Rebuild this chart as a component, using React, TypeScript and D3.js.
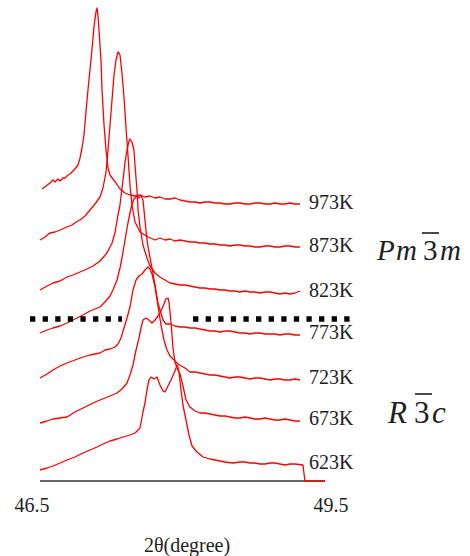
import * as d3 from 'd3';

type Pt = [number, number];

const width = 470;
const height = 556;

// temperatures, top to bottom, and the vertical offset of each scan (a.u.)
const temperatures = ['973K', '873K', '823K', '773K', '723K', '673K', '623K'];
const offsets = [277, 234, 189, 147, 102, 61, 17];

// [2theta, intensity above offset]
const scan973: Pt[] = [
  [46.521, 15], [46.563, 18], [46.605, 21], [46.637, 24], [46.658, 22], [46.689, 25], [46.711, 23],
  [46.742, 26], [46.763, 26], [46.795, 29], [46.816, 30], [46.847, 33], [46.868, 35], [46.9, 39],
  [46.921, 46], [46.942, 56], [46.963, 69], [46.984, 92], [47.005, 114], [47.026, 134], [47.047, 154],
  [47.068, 177], [47.089, 192], [47.1, 196], [47.111, 188], [47.121, 174], [47.142, 144], [47.153, 114],
  [47.174, 79], [47.195, 54], [47.216, 36], [47.237, 29], [47.268, 25], [47.3, 21], [47.342, 15],
  [47.395, 11], [47.447, 9], [47.5, 8], [47.553, 9], [47.605, 7], [47.658, 8], [47.711, 6],
  [47.763, 7], [47.816, 5], [47.868, 5], [47.921, 6], [47.974, 4], [48.026, 3], [48.079, 2],
  [48.132, 2], [48.184, 1], [48.237, 2], [48.289, 2], [48.342, 1], [48.395, 1], [48.447, 0],
  [48.5, 0], [48.553, 1], [48.605, 1], [48.658, 0], [48.711, 0], [48.763, 1], [48.816, 1],
  [48.868, 0], [48.921, 0], [48.974, 1], [49.026, 0], [49.079, 0], [49.132, 1], [49.184, 0], [49.237, 0],
];

const scan873: Pt[] = [
  [46.5, 7], [46.553, 10], [46.605, 14], [46.658, 15], [46.711, 17], [46.784, 20], [46.837, 22],
  [46.879, 25], [46.921, 27], [46.974, 31], [47.026, 37], [47.079, 43], [47.132, 50], [47.163, 59],
  [47.195, 75], [47.216, 97], [47.237, 122], [47.258, 147], [47.279, 172], [47.3, 187], [47.321, 195],
  [47.332, 194], [47.342, 192], [47.363, 174], [47.384, 150], [47.405, 120], [47.426, 92], [47.447, 62],
  [47.468, 42], [47.5, 25], [47.553, 15], [47.637, 10], [47.711, 7], [47.763, 9], [47.816, 7],
  [47.868, 8], [47.921, 6], [47.974, 7], [48.026, 6], [48.079, 5], [48.132, 5], [48.184, 4],
  [48.237, 4], [48.289, 3], [48.342, 3], [48.395, 2], [48.447, 2], [48.5, 1], [48.553, 2],
  [48.605, 2], [48.658, 1], [48.711, 1], [48.763, 0], [48.816, 0], [48.868, 1], [48.921, 1],
  [48.974, 0], [49.026, 0], [49.079, 1], [49.132, 1], [49.184, 0], [49.237, 0],
];

const scan823: Pt[] = [
  [46.5, 2], [46.574, 6], [46.637, 9], [46.711, 11], [46.784, 15], [46.847, 17], [46.921, 20],
  [46.995, 23], [47.058, 26], [47.132, 31], [47.205, 39], [47.258, 49], [47.289, 59], [47.321, 77],
  [47.342, 87], [47.374, 112], [47.395, 130], [47.416, 142], [47.437, 151], [47.447, 153], [47.468, 150],
  [47.489, 142], [47.5, 127], [47.521, 102], [47.532, 82], [47.553, 65], [47.584, 47], [47.626, 34],
  [47.658, 26], [47.711, 19], [47.763, 15], [47.816, 12], [47.868, 9], [47.921, 8], [47.974, 7],
  [48.026, 7], [48.079, 6], [48.132, 5], [48.184, 4], [48.237, 4], [48.289, 3], [48.342, 3],
  [48.395, 2], [48.447, 2], [48.5, 1], [48.553, 1], [48.605, 0], [48.658, 1], [48.711, 0],
  [48.763, 0], [48.816, -1], [48.868, 0], [48.921, 0], [48.974, -1], [49.026, -2], [49.079, -1],
  [49.132, -2], [49.184, -1], [49.237, 1],
];

const scan773: Pt[] = [
  [46.5, 1], [46.574, 4], [46.637, 6], [46.711, 8], [46.784, 11], [46.868, 15], [46.953, 19],
  [47.026, 23], [47.132, 27], [47.184, 32], [47.237, 38], [47.268, 44], [47.311, 54], [47.342, 66],
  [47.363, 76], [47.395, 94], [47.426, 111], [47.458, 126], [47.489, 135], [47.521, 138], [47.542, 136],
  [47.563, 139], [47.584, 134], [47.605, 114], [47.626, 94], [47.647, 82], [47.679, 66], [47.711, 49],
  [47.742, 31], [47.763, 24], [47.795, 14], [47.826, 10], [47.868, 10], [47.921, 8], [47.974, 7],
  [48.026, 7], [48.079, 6], [48.132, 6], [48.184, 5], [48.237, 4], [48.289, 3], [48.342, 3],
  [48.395, 2], [48.447, 3], [48.5, 3], [48.553, 2], [48.605, 1], [48.658, 1], [48.711, 0],
  [48.763, 1], [48.816, 1], [48.868, 0], [48.921, 0], [48.974, 0], [49.026, -1], [49.079, 0],
  [49.132, 0], [49.184, -1], [49.237, -1],
];

const scan723: Pt[] = [
  [46.5, 1], [46.574, 5], [46.637, 9], [46.711, 13], [46.784, 16], [46.868, 19], [46.953, 22],
  [47.026, 24], [47.079, 25], [47.132, 26], [47.184, 29], [47.237, 30], [47.289, 32], [47.321, 35],
  [47.353, 41], [47.384, 51], [47.416, 61], [47.447, 72], [47.479, 89], [47.511, 99], [47.542, 103],
  [47.574, 105], [47.605, 109], [47.637, 112], [47.658, 110], [47.679, 105], [47.711, 92], [47.742, 73],
  [47.774, 54], [47.805, 39], [47.837, 29], [47.868, 23], [47.911, 19], [47.953, 15], [48.026, 11],
  [48.079, 7], [48.132, 7], [48.184, 6], [48.237, 5], [48.289, 4], [48.342, 4], [48.395, 3],
  [48.447, 2], [48.5, 1], [48.553, 2], [48.605, 2], [48.658, 1], [48.711, 0], [48.763, 1],
  [48.816, 1], [48.868, 0], [48.921, -1], [48.974, 0], [49.026, 0], [49.079, -1], [49.132, -1],
  [49.184, 0], [49.237, -1],
];

const scan673: Pt[] = [
  [46.5, -3], [46.574, -1], [46.637, 1], [46.711, 2], [46.784, 3], [46.868, 8], [46.953, 12],
  [47.058, 17], [47.132, 20], [47.237, 24], [47.311, 27], [47.363, 31], [47.416, 37], [47.447, 45],
  [47.479, 55], [47.511, 70], [47.542, 82], [47.563, 92], [47.584, 100], [47.616, 102], [47.647, 100],
  [47.679, 97], [47.711, 100], [47.742, 104], [47.774, 109], [47.805, 116], [47.826, 121], [47.847, 122],
  [47.858, 118], [47.879, 98], [47.9, 72], [47.921, 58], [47.942, 52], [47.974, 46], [48.005, 34],
  [48.037, 20], [48.079, 13], [48.132, 9], [48.184, 7], [48.237, 7], [48.289, 6], [48.342, 5],
  [48.395, 4], [48.447, 4], [48.5, 3], [48.553, 2], [48.605, 2], [48.658, 3], [48.711, 2],
  [48.763, 1], [48.816, 1], [48.868, 2], [48.921, 1], [48.974, 0], [49.026, 0], [49.079, 1],
  [49.132, 0], [49.184, -1], [49.237, -1],
];

const scan623: Pt[] = [
  [46.5, -6], [46.574, -4], [46.637, -2], [46.711, 1], [46.784, 4], [46.868, 7], [46.953, 11],
  [47.026, 14], [47.1, 17], [47.163, 20], [47.237, 23], [47.311, 25], [47.374, 27], [47.447, 29],
  [47.5, 31], [47.553, 36], [47.584, 52], [47.605, 61], [47.626, 74], [47.647, 84], [47.668, 87],
  [47.7, 85], [47.732, 87], [47.763, 79], [47.795, 73], [47.816, 72], [47.847, 78], [47.879, 84],
  [47.911, 91], [47.932, 96], [47.942, 99], [47.953, 97], [47.963, 92], [47.984, 74], [48.005, 59],
  [48.037, 44], [48.068, 29], [48.1, 18], [48.153, 12], [48.216, 7], [48.289, 5], [48.342, 4],
  [48.395, 3], [48.447, 2], [48.532, 1], [48.605, 2], [48.658, 2], [48.711, 1], [48.763, 1],
  [48.816, 0], [48.868, 0], [48.921, 1], [48.974, 1], [49.026, 0], [49.079, -1], [49.132, 0],
  [49.184, 0], [49.268, -1], [49.289, -17], [49.5, -17],
];

const scans = [scan973, scan873, scan823, scan773, scan723, scan673, scan623];

const xTicks = [46.5, 49.5];
const xLabel = '2θ(degree)';

// dotted phase boundary between 823K and 773K
const boundaryLevel = 162;
const boundarySegments: Pt[] = [
  [46.395, 47.363],
  [48.111, 49.763],
];

const serif = "'Liberation Serif', 'DejaVu Serif', serif";
const textColor = '#1e1e1e';

export default function App() {
  const x = d3.scaleLinear().domain([46.5, 49.5]).range([40, 325]);
  const y = d3.scaleLinear().domain([0, 481]).range([481, 0]);

  const line = (offset: number) =>
    d3
      .line<Pt>()
      .x((d) => x(d[0]))
      .y((d) => y(d[1] + offset));

  return (
    <svg
      width={width}
      height={height}
      viewBox={`0 0 ${width} ${height}`}
      style={{ position: 'absolute', left: 0, top: 0, background: '#fff', fontFamily: serif }}
    >
      {/* baseline axis */}
      <line x1={x(46.5)} x2={x(49.5)} y1={y(0)} y2={y(0)} stroke="#333" strokeWidth={1.6} />

      {/* scans */}
      <g fill="none" stroke="#ff0000" strokeWidth={1.3} strokeLinejoin="round">
        {scans.map((s, i) => (
          <path key={temperatures[i]} d={line(offsets[i])(s) ?? ''} />
        ))}
      </g>

      {/* temperature labels */}
      <g style={{ fontFamily: serif, fontSize: '20px' }} fill={textColor}>
        {temperatures.map((t, i) => (
          <text key={t} x={x(49.237) + 9} y={y(offsets[i]) + 5}>
            {t}
          </text>
        ))}
      </g>

      {/* phase boundary */}
      {boundarySegments.map((seg, i) => (
        <line
          key={i}
          x1={x(seg[0])}
          x2={x(seg[1])}
          y1={y(boundaryLevel)}
          y2={y(boundaryLevel)}
          stroke="#000"
          strokeWidth={5.5}
          strokeDasharray="5.3 7.3"
        />
      ))}

      {/* phase labels */}
      <g style={{ fontFamily: serif, fontSize: '29px' }} fill={textColor}>
        <text x={377} y={260} fontStyle="italic">P</text>
        <text x={396} y={260} fontStyle="italic">m</text>
        <text x={423} y={260}>3</text>
        <line x1={422} x2={439} y1={233} y2={233} stroke={textColor} strokeWidth={1.6} />
        <text x={440} y={260} fontStyle="italic">m</text>
      </g>
      <g style={{ fontFamily: serif, fontSize: '31px' }} fill={textColor}>
        <text x={388} y={423} fontStyle="italic">R</text>
        <text x={414} y={423}>3</text>
        <line x1={415} x2={432} y1={394} y2={394} stroke={textColor} strokeWidth={1.6} />
        <text x={432} y={423} fontStyle="italic">c</text>
      </g>

      {/* x axis labels */}
      <g style={{ fontFamily: serif, fontSize: '20px' }} fill={textColor} textAnchor="middle">
        <text x={x(xTicks[0]) - 8} y={512}>{xTicks[0].toFixed(1)}</text>
        <text x={x(xTicks[1]) + 6} y={512}>{xTicks[1].toFixed(1)}</text>
        <text x={187} y={552}>{xLabel}</text>
      </g>
    </svg>
  );
}
